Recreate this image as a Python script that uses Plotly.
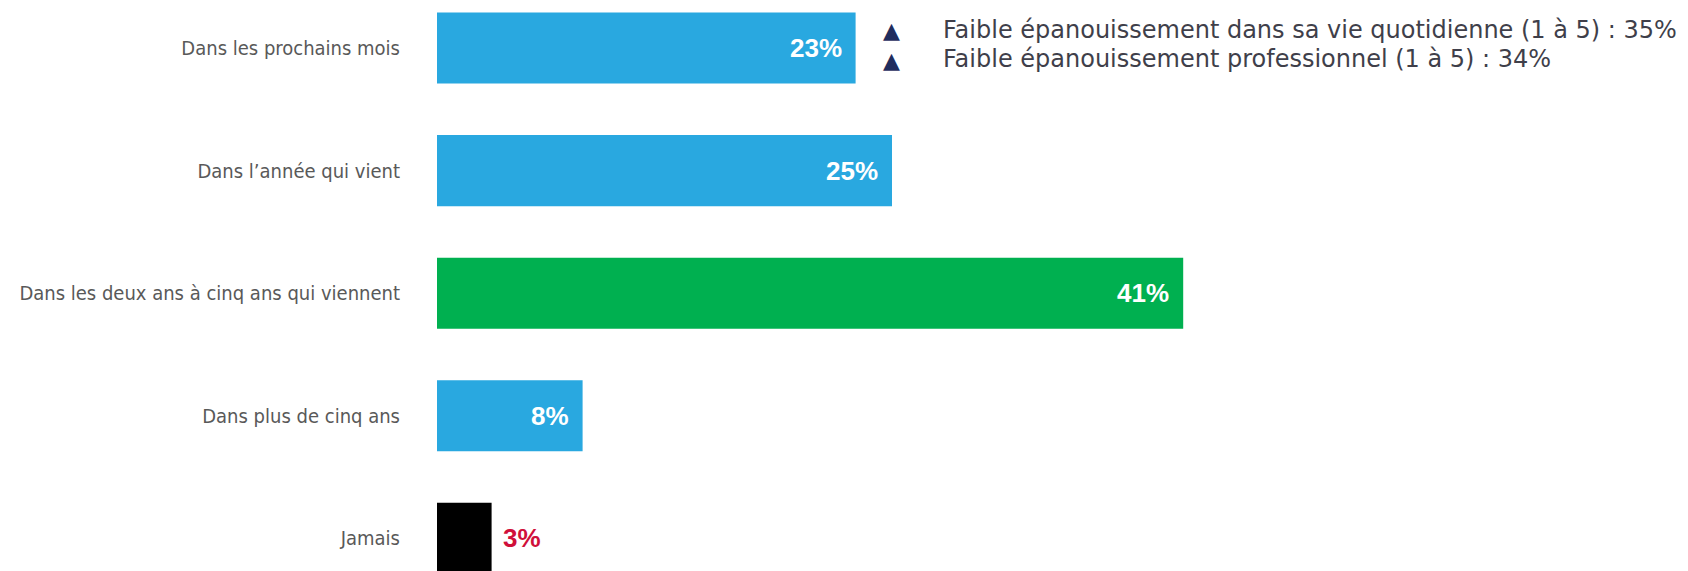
import plotly.graph_objects as go

categories = [
    "Dans les prochains mois",
    "Dans l\u2019ann\u00e9e qui vient",
    "Dans les deux ans \u00e0 cinq ans qui viennent",
    "Dans plus de cinq ans",
    "Jamais",
]
values = [23, 25, 41, 8, 3]
bar_colors = ["#29A8E0", "#29A8E0", "#00B050", "#29A8E0", "#000000"]
label_inside = [True, True, True, True, False]
label_colors = ["#FFFFFF", "#FFFFFF", "#FFFFFF", "#FFFFFF", "#D0103A"]

side_notes = [
    "Faible \u00e9panouissement dans sa vie quotidienne (1 \u00e0 5) : 35%",
    "Faible \u00e9panouissement professionnel (1 \u00e0 5) : 34%",
]

# page body has an 8px margin; figure sized to fill the rest of the window
OFF = 8
W, H = 1688 - OFF, 571 - OFF
L = 437 - OFF
PLOT_W = W - L

fig = go.Figure()
fig.add_trace(go.Bar(
    x=values,
    y=categories,
    orientation="h",
    marker=dict(color=bar_colors, line=dict(width=0)),
    width=0.58,
    hoverinfo="skip",
))

annotations = []
for cat, v, inside, col in zip(categories, values, label_inside, label_colors):
    annotations.append(dict(
        x=v, y=cat, xref="x", yref="y",
        text=f"<b>{v}%</b>",
        showarrow=False,
        xanchor="right" if inside else "left",
        xshift=-12 if inside else 9,
        font=dict(family="Liberation Sans Narrow, Liberation Sans, Arial", size=26, color=col),
    ))

def px_to_paper_x(px):
    return (px - OFF - L) / PLOT_W

def py_to_paper_y(py):
    return 1 - (py - OFF) / H

for i, note in enumerate(side_notes):
    cy = 31 + i * 29
    annotations.append(dict(
        x=px_to_paper_x(881), y=py_to_paper_y(cy), xref="paper", yref="paper",
        text="\u25B2", showarrow=False, xanchor="left", yanchor="middle",
        font=dict(family="DejaVu Sans", size=22, color="#1F2D5E"),
    ))
    annotations.append(dict(
        x=px_to_paper_x(941), y=py_to_paper_y(cy - 1), xref="paper", yref="paper",
        text=note, showarrow=False, xanchor="left", yanchor="middle",
        font=dict(family="DejaVu Sans, sans-serif", size=24, color="#3F3F4A"),
    ))

c0 = 48 - OFF
step = 122.6
fig.update_layout(
    width=W, height=H,
    margin=dict(l=L, r=0, t=0, b=0, autoexpand=False),
    paper_bgcolor="white", plot_bgcolor="white",
    showlegend=False,
    annotations=annotations,
    xaxis=dict(range=[0, PLOT_W / 18.2], visible=False, fixedrange=True),
    yaxis=dict(
        type="category",
        categoryorder="array", categoryarray=categories,
        range=[(H - c0) / step, -c0 / step],
        showgrid=False, zeroline=False, showline=False,
        ticks="", ticklabelstandoff=36,
        tickfont=dict(family="DejaVu Sans Condensed, Liberation Sans, Arial", size=20, color="#595959"),
        automargin=False,
        fixedrange=True,
    ),
)

fig.write_html("out.html")
